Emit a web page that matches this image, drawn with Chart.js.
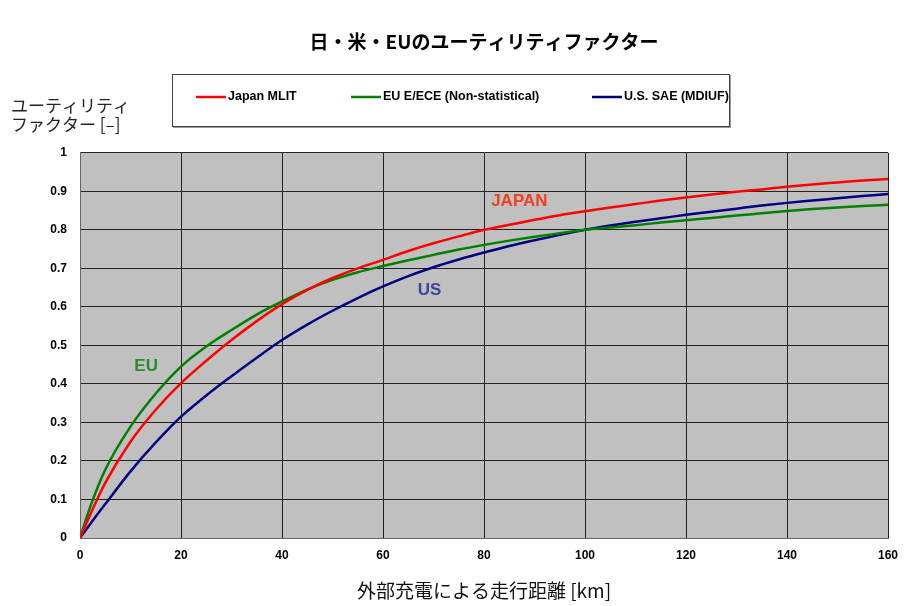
<!DOCTYPE html>
<html><head><meta charset="utf-8">
<script src="https://cdn.jsdelivr.net/npm/chart.js@4"></script>
<style>html,body{margin:0;padding:0;background:#fff;}</style>
</head><body>
<canvas id="c" width="912" height="606"></canvas>
<script>
const chartTitle = '日・米・EUのユーティリティファクター';
const xAxisTitle = '外部充電による走行距離 [km]';
const yAxisTitleLines = ['ユーティリティ', 'ファクター [–]'];
const seriesLabels = ['Japan MLIT', 'EU E/ECE (Non-statistical)', 'U.S. SAE (MDIUF)'];
const annotationTexts = ['JAPAN', 'EU', 'US'];

const distanceKm = [0,2,5,10,15,20,25,30,35,40,45,50,55,60,65,70,75,80,85,90,95,100,105,110,115,120,125,130,135,140,145,150,155,160];
const japanUF = [0,0.06,0.143,0.25,0.333,0.402,0.46,0.514,0.563,0.607,0.644,0.675,0.7,0.722,0.745,0.765,0.783,0.8,0.813,0.826,0.838,0.848,0.858,0.867,0.876,0.884,0.892,0.899,0.905,0.912,0.918,0.923,0.928,0.932];
const euUF = [0,0.08,0.177,0.289,0.375,0.445,0.497,0.54,0.58,0.614,0.645,0.67,0.69,0.706,0.721,0.735,0.749,0.761,0.772,0.782,0.791,0.8,0.806,0.812,0.819,0.825,0.831,0.837,0.843,0.849,0.854,0.858,0.862,0.865];
const usUF = [0,0.036,0.088,0.173,0.248,0.315,0.37,0.42,0.468,0.514,0.554,0.59,0.623,0.653,0.68,0.703,0.723,0.741,0.758,0.773,0.787,0.8,0.811,0.821,0.83,0.839,0.847,0.855,0.863,0.87,0.876,0.882,0.888,0.893];

// annotation anchor positions in data units [km, UF]
const annotationKm = [87, 13.1, 69.2];
const annotationUF = [0.873, 0.447, 0.644];

const lineColors = ['#ff0000', '#008000', '#000080'];
const annotationColors = ['#f0401c', '#2a8a2a', '#3c44a0'];

function pts(ys){ return distanceKm.map((x,i)=>({x:x, y:ys[i]})); }

const plotBg = {
  id:'plotBg',
  beforeDraw(chart){
    const {ctx, chartArea:a} = chart;
    ctx.save(); ctx.fillStyle = '#c0c0c0';
    ctx.fillRect(a.left, a.top, a.right-a.left, a.bottom-a.top);
    ctx.restore();
  }
};

const extras = {
  id:'extras',
  afterDatasetsDraw(chart){
    const ctx = chart.ctx, xs = chart.scales.x, ys = chart.scales.y;
    ctx.save();
    ctx.font = 'bold 17px "Liberation Sans", Arial, sans-serif';
    ctx.textAlign = 'center'; ctx.textBaseline = 'middle';
    annotationTexts.forEach((t,i)=>{
      ctx.fillStyle = annotationColors[i];
      ctx.fillText(t, xs.getPixelForValue(annotationKm[i]), ys.getPixelForValue(annotationUF[i]));
    });
    ctx.restore();
  },
  afterDraw(chart){
    const ctx = chart.ctx;
    ctx.save();
    ctx.fillStyle = '#222';
    ctx.font = '17px "Noto Sans CJK JP", sans-serif';
    ctx.textAlign = 'left'; ctx.textBaseline = 'middle';
    ctx.fillText(yAxisTitleLines[0], 11, 106);
    ctx.fillText(yAxisTitleLines[1], 11, 125);
    ctx.strokeStyle = '#444'; ctx.lineWidth = 1;
    ctx.strokeRect(172.5, 74.5, 557, 52);
    ctx.strokeStyle = '#999';
    ctx.beginPath(); ctx.moveTo(173, 127.5); ctx.lineTo(731, 127.5); ctx.moveTo(730.5, 75); ctx.lineTo(730.5, 128); ctx.stroke();
    const itemX = [196, 351, 592];
    ctx.font = 'bold 12.5px "Liberation Sans", Arial, sans-serif';
    ctx.textBaseline = 'middle';
    chart.data.datasets.forEach((ds,i)=>{
      ctx.strokeStyle = ds.borderColor; ctx.lineWidth = 2.5;
      ctx.beginPath(); ctx.moveTo(itemX[i], 97); ctx.lineTo(itemX[i]+30, 97); ctx.stroke();
      ctx.fillStyle = '#000';
      ctx.fillText(ds.label, itemX[i]+32, 97);
    });
    ctx.restore();
  }
};

new Chart(document.getElementById('c'), {
  type:'line',
  data:{
    datasets:[
      {label:seriesLabels[0], data:pts(japanUF), borderColor:lineColors[0], backgroundColor:lineColors[0], borderWidth:2.5, pointRadius:0, cubicInterpolationMode:'monotone'},
      {label:seriesLabels[1], data:pts(euUF), borderColor:lineColors[1], backgroundColor:lineColors[1], borderWidth:2.5, pointRadius:0, cubicInterpolationMode:'monotone'},
      {label:seriesLabels[2], data:pts(usUF), borderColor:lineColors[2], backgroundColor:lineColors[2], borderWidth:2.5, pointRadius:0, cubicInterpolationMode:'monotone'}
    ]
  },
  options:{
    responsive:false, animation:false,
    layout:{padding:{left:0,right:24,top:0,bottom:0}},
    plugins:{
      legend:{display:false},
      tooltip:{enabled:false},
      title:{display:true, text:chartTitle, fullSize:false, color:'#000',
        font:{family:'"Noto Sans CJK JP", sans-serif', size:19, weight:'bold'},
        padding:{top:30, bottom:100}}
    },
    scales:{
      x:{type:'linear', min:0, max:160,
        ticks:{stepSize:20, padding:10, color:'#000', font:{family:'"Liberation Sans", Arial, sans-serif', size:12, weight:'bold'}},
        grid:{color:'#222', lineWidth:1, drawTicks:false},
        border:{color:'#666'},
        title:{display:true, text:xAxisTitle, color:'#111', font:{family:'"Noto Sans CJK JP", sans-serif', size:19}, padding:{top:4,bottom:4}},
        afterFit(s){ s.height = 68; }
      },
      y:{min:0, max:1,
        ticks:{stepSize:0.1, padding:13, color:'#000', font:{family:'"Liberation Sans", Arial, sans-serif', size:12, weight:'bold'},
          callback:(v)=>String(Math.round(v*10)/10)},
        grid:{color:'#222', lineWidth:1, drawTicks:false},
        border:{color:'#666'},
        afterFit(s){ s.width = 80; }
      }
    }
  },
  plugins:[plotBg, extras]
});
</script>
</body></html>
